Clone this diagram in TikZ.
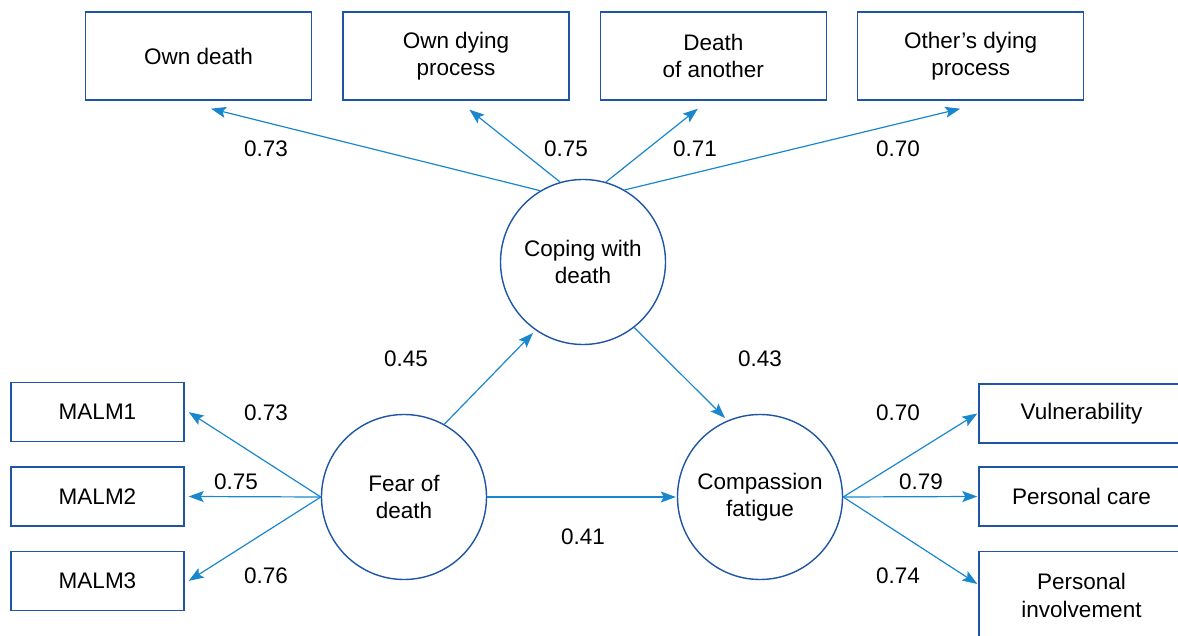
\documentclass[tikz,border=0pt]{standalone}
\usepackage{fontspec}
\setmainfont{Liberation Sans}
\usetikzlibrary{arrows.meta,positioning}
\definecolor{boxblue}{RGB}{30,85,165}
\definecolor{arrowblue}{RGB}{25,135,205}

\begin{document}
\begin{tikzpicture}[
    x=1pt, y=1pt,
    font=\fontsize{22.5}{27.5}\selectfont,
    box/.style={draw=boxblue, line width=1.4pt, align=center, minimum width=226pt, minimum height=88pt, inner sep=0pt},
    item/.style={draw=boxblue, line width=1.4pt, align=center, minimum width=173pt, minimum height=59pt, inner sep=0pt},
    latent/.style={draw=boxblue, line width=1.4pt, circle, align=center, minimum size=165pt, inner sep=0pt},
    arrow/.style={-{Stealth[length=15pt,width=11pt,inset=3pt]}, draw=arrowblue, line width=1.2pt},
    coef/.style={inner sep=0pt}
]
\useasboundingbox (0,0) rectangle (1178,635);
% indicators of coping
\node[box] (owndeath) at (198.5,579) {Own death};
\node[box, right=30pt of owndeath] (ownproc) {Own dying\\process};
\node[box, right=30pt of ownproc] (another) {Death\\of another};
\node[box, right=30pt of another] (otherproc) {Other's dying\\process};
% latent variables
\node[latent] (cope) at (583,373) {Coping with\\death};
\node[latent] (fear) at (404,138) {Fear of\\death};
\node[latent] (comp) at (760,138) {Compassion\\fatigue};
% left items
\node[item] (malm2) at (97.5,138.5) {MALM2};
\node[item, above=24pt of malm2] (malm1) {MALM1};
\node[item, below=24pt of malm2] (malm3) {MALM3};
% right items
\node[item, minimum width=205pt] (vuln) at (1081.5,221.5) {Vulnerability};
\node[item, minimum width=205pt] (care) at (1081.5,138.5) {Personal care};
\node[item, minimum width=205pt, minimum height=88pt, anchor=north] (involve) at (1081.5,84) {Personal\\involvement};
\draw[arrow] (cope.121) -- ([shift={(12.5,-8)}]owndeath.south);
\draw[arrow] (cope.106) -- ([shift={(13.5,-9)}]ownproc.south);
\draw[arrow] (cope.74) -- ([shift={(-15.5,-8)}]another.south);
\draw[arrow] (cope.60) -- ([shift={(-10.5,-8)}]otherproc.south);
\draw[arrow] (fear.61) -- ([shift={(-50,-71)}]cope.center);
\draw[arrow] (cope.-52) -- ([shift={(-35,79)}]comp.center);
\draw[arrow] (fear.east) -- ([xshift=-1]comp.west);
\draw[arrow] (fear.west) -- ([xshift=4]malm1.east);
\draw[arrow] (fear.west) -- ([xshift=4]malm2.east);
\draw[arrow] (fear.west) -- ([xshift=4]malm3.east);
\draw[arrow] (comp.east) -- ([xshift=-1]vuln.west);
\draw[arrow] (comp.east) -- ([xshift=-1]care.west);
\draw[arrow] (comp.east) -- ([shift={(-1,-33)}]involve.north west);
% loadings and paths
\node[coef] (l1) at (266,486) {0.73};
\node[coef] (l2) at (566,486) {0.75};
\node[coef] (l3) at (695,486) {0.71};
\node[coef] (l4) at (898,486) {0.70};
\node[coef] (p1) at (406,276) {0.45};
\node[coef] (p2) at (760,276) {0.43};
\node[coef] (p3) at (583,98) {0.41};
\node[coef] (m1) at (266,222) {0.73};
\node[coef] (m2) at (236,153) {0.75};
\node[coef] (m3) at (266,59) {0.76};
\node[coef] (r1) at (898,222) {0.70};
\node[coef] (r2) at (921,153) {0.79};
\node[coef] (r3) at (898,59) {0.74};
\end{tikzpicture}
\end{document}
